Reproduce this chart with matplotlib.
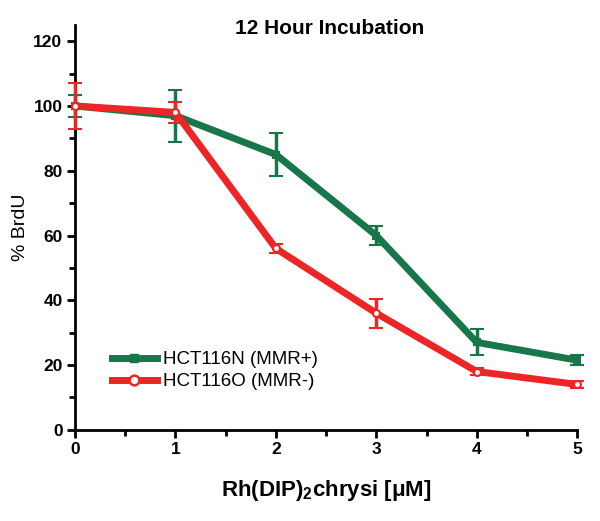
import numpy as np
import matplotlib
matplotlib.use('Agg')
import matplotlib.pyplot as plt
from matplotlib.ticker import MultipleLocator
from matplotlib.lines import Line2D

plt.rcParams['font.family'] = ['Liberation Sans', 'DejaVu Sans']
plt.rcParams['mathtext.fontset'] = 'custom'
plt.rcParams['mathtext.bf'] = 'Liberation Sans:bold'
plt.rcParams['mathtext.rm'] = 'Liberation Sans'

# ── Dane ─────────────────────────────────────────────
conc = [0, 1, 2, 3, 4, 5]
mmr_plus = [100, 97, 85, 60, 27, 21.5]
mmr_plus_err = [3.4, 8, 6.6, 3, 4, 1.5]
mmr_minus = [100, 98, 56, 36, 18, 14]
mmr_minus_err = [7, 3.2, 1.5, 4.5, 1, 1]
labels = ['HCT116N (MMR+)', 'HCT116O (MMR-)']

GREEN = '#17774a'
RED = '#ee2526'

fig = plt.figure(figsize=(6.0, 5.21), dpi=100)
ax = fig.add_axes([0.125, 0.175, 0.837, 0.777])

for y, err, c, mk, mfc, z in [(mmr_plus, mmr_plus_err, GREEN, 's', GREEN, 2),
                              (mmr_minus, mmr_minus_err, RED, 'o', 'white', 3)]:
    eb = ax.errorbar(conc, y, yerr=err, color=c, lw=5,
                     marker=mk, ms=5, mfc=mfc, mec=c, mew=1.5,
                     elinewidth=2.5, capsize=5, capthick=2.5, zorder=z)
    eb.lines[0].set_clip_on(False)
    for art in list(eb.lines[1]) + list(eb.lines[2]):
        art.set_clip_on(False)

ax.set_xlim(0, 5)
ax.set_ylim(0, 125)
ax.set_yticks([0, 20, 40, 60, 80, 100, 120])
ax.xaxis.set_minor_locator(MultipleLocator(0.5))
ax.yaxis.set_minor_locator(MultipleLocator(10))
for s in ['top', 'right']:
    ax.spines[s].set_visible(False)
for s in ['left', 'bottom']:
    ax.spines[s].set_linewidth(2)
ax.tick_params(which='major', direction='out', length=6, width=2,
               labelsize=12.5, pad=3)
ax.tick_params(which='minor', direction='out', length=4, width=2)
for lbl in ax.get_xticklabels() + ax.get_yticklabels():
    lbl.set_fontweight('bold')

ax.set_xlabel(r'Rh(DIP)$_\mathbf{2}$chrysi [$\mathbf{\mu}$M]', fontsize=16,
              fontweight='bold', labelpad=15)
ax.set_ylabel('% BrdU', fontsize=14, labelpad=3)
fig.text(0.55, 0.946, '12 Hour Incubation', fontsize=15, fontweight='bold',
         ha='center', va='center')

handles = [
    Line2D([], [], color=GREEN, lw=5, marker='s', ms=6, mfc=GREEN, mec=GREEN),
    Line2D([], [], color=RED, lw=5, marker='o', ms=7, mfc='white', mec=RED,
           mew=1.8),
]
ax.legend(handles, labels, loc='lower left', bbox_to_anchor=(0.04, 0.056),
          frameon=False, fontsize=13.5, handlelength=2.4, handletextpad=0.3,
          labelspacing=0.25)

fig.savefig('out.png', dpi=100)
